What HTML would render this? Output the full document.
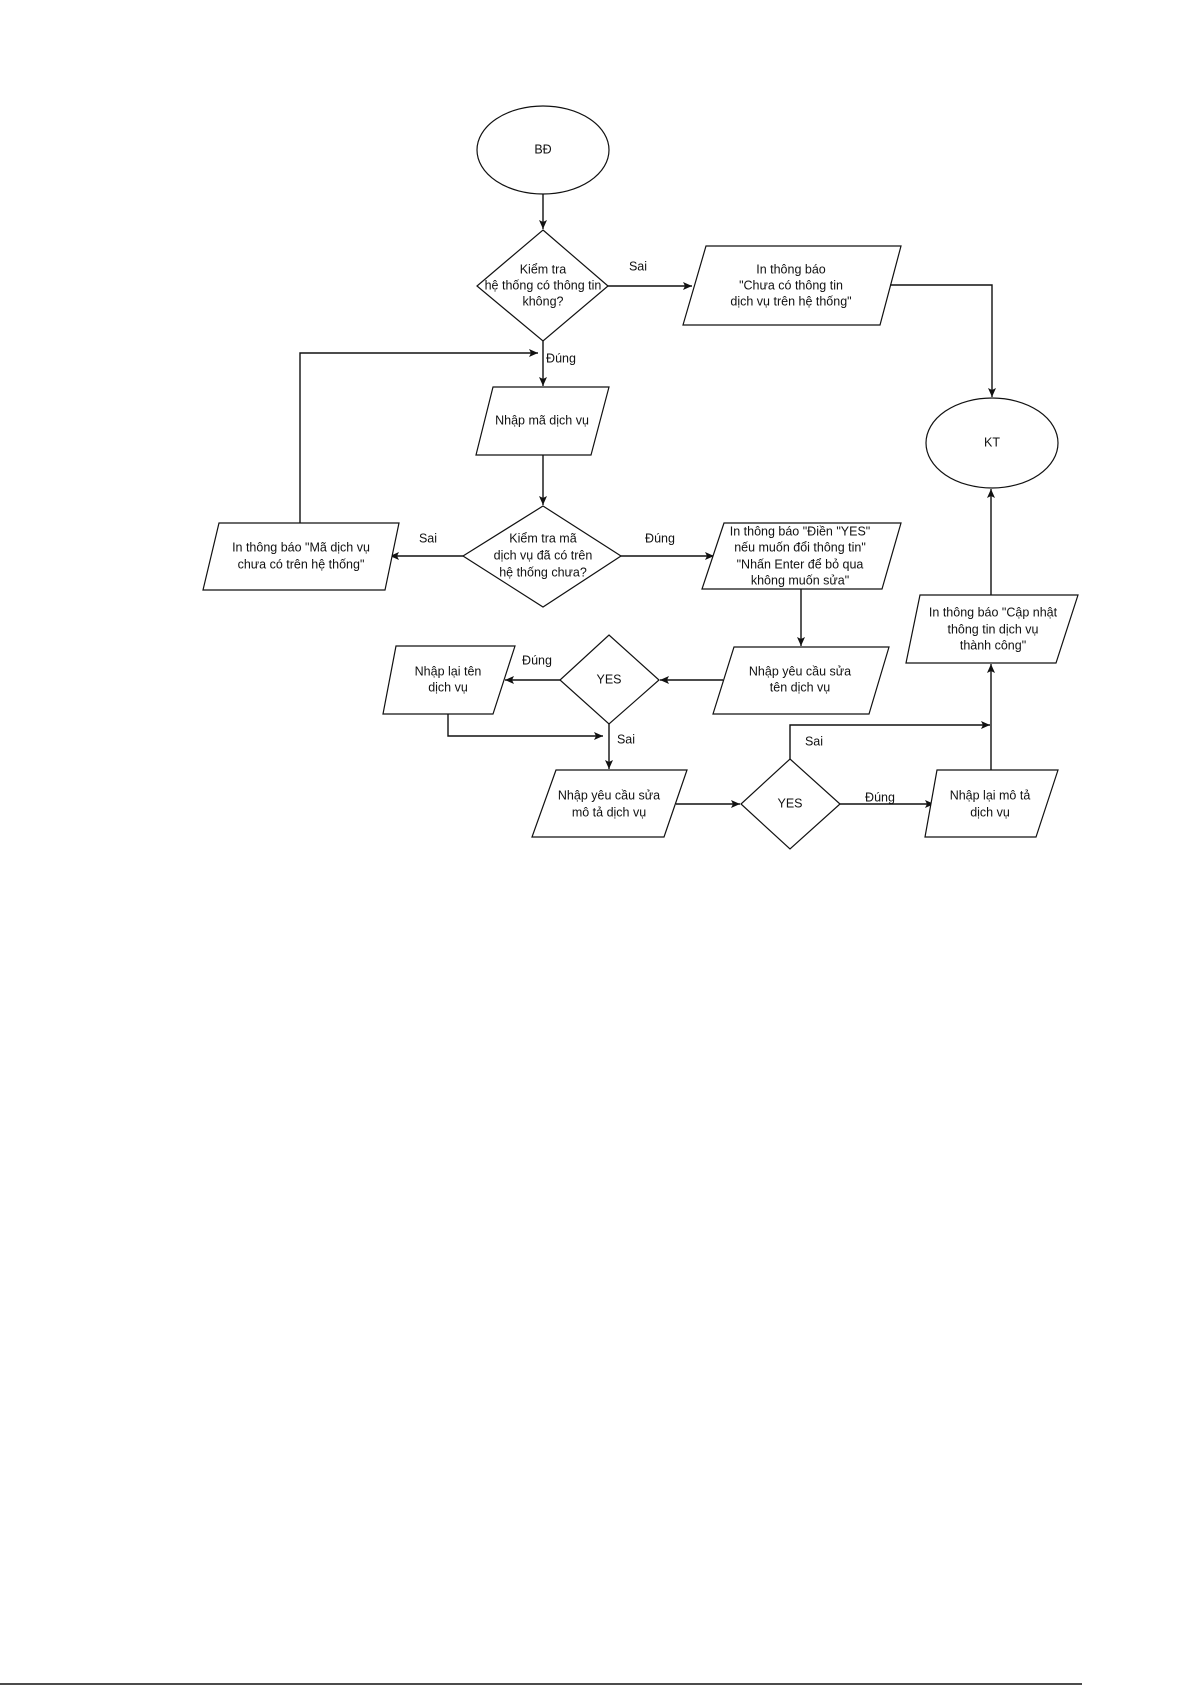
<!DOCTYPE html>
<html><head><meta charset="utf-8"><style>
html,body{margin:0;padding:0;background:#fff;}
svg{display:block;}
text{font-family:"Liberation Sans",Arial,sans-serif;font-size:12.5px;fill:#111;text-anchor:middle;dominant-baseline:middle;}
.s{fill:#fff;stroke:#111;stroke-width:1.2;}
.l{fill:none;stroke:#111;stroke-width:1.4;}
</style></head><body>
<svg width="1192" height="1685" viewBox="0 0 1192 1685" xmlns="http://www.w3.org/2000/svg">
<defs><marker id="a" markerWidth="10" markerHeight="10" refX="9" refY="5" orient="auto" markerUnits="userSpaceOnUse"><path d="M0,1 L9,5 L0,9 L2,5 z" fill="#111"/></marker></defs>

<ellipse class="s" cx="543" cy="150" rx="66" ry="44"/><text x="543" y="150">BĐ</text>
<line class="l" x1="543" y1="194" x2="543" y2="229" marker-end="url(#a)"/>

<polygon class="s" points="543,230 608,286 543,341 477,286"/>
<text x="543" y="270">Kiểm tra</text><text x="543" y="286">hệ thống có thông tin</text><text x="543" y="302">không?</text>
<text x="638" y="267">Sai</text>
<line class="l" x1="608" y1="286" x2="692" y2="286" marker-end="url(#a)"/>
<polygon class="s" points="706,246 901,246 880,325 683,325"/>
<text x="791" y="270">In thông báo</text><text x="791" y="286">"Chưa có thông tin</text><text x="791" y="302">dịch vụ trên hệ thống"</text>
<polyline class="l" points="890,285 992,285 992,397" marker-end="url(#a)"/>
<ellipse class="s" cx="992" cy="443" rx="66" ry="45"/><text x="992" y="443">KT</text>

<line class="l" x1="543" y1="341" x2="543" y2="386" marker-end="url(#a)"/>
<text x="561" y="359">Đúng</text>
<polyline class="l" points="300,523 300,353 538,353" marker-end="url(#a)"/>

<polygon class="s" points="493,387 609,387 591,455 476,455"/>
<text x="542" y="421">Nhập mã dịch vụ</text>
<line class="l" x1="543" y1="455" x2="543" y2="505" marker-end="url(#a)"/>

<polygon class="s" points="543,506 621,556 543,607 463,556"/>
<text x="543" y="539">Kiểm tra mã</text><text x="543" y="556">dịch vụ đã có trên</text><text x="543" y="573">hệ thống chưa?</text>
<text x="428" y="539">Sai</text>
<line class="l" x1="463" y1="556" x2="390" y2="556" marker-end="url(#a)"/>
<polygon class="s" points="219,523 399,523 385,590 203,590"/>
<text x="301" y="548">In thông báo "Mã dịch vụ</text><text x="301" y="565">chưa có trên hệ thống"</text>
<text x="660" y="539">Đúng</text>
<line class="l" x1="621" y1="556" x2="714" y2="556" marker-end="url(#a)"/>
<polygon class="s" points="724,523 901,523 882,589 702,589"/>
<text x="800" y="532">In thông báo "Điền "YES"</text><text x="800" y="548">nếu muốn đổi thông tin"</text><text x="800" y="565">"Nhấn Enter để bỏ qua</text><text x="800" y="581">không muốn sửa"</text>
<line class="l" x1="801" y1="589" x2="801" y2="646" marker-end="url(#a)"/>

<polygon class="s" points="734,647 889,647 869,714 713,714"/>
<text x="800" y="672">Nhập yêu cầu sửa</text><text x="800" y="688">tên dịch vụ</text>
<line class="l" x1="723" y1="680" x2="660" y2="680" marker-end="url(#a)"/>
<polygon class="s" points="609,635 659,680 609,724 560,680"/>
<text x="609" y="680">YES</text>
<text x="537" y="661">Đúng</text>
<line class="l" x1="560" y1="680" x2="505" y2="680" marker-end="url(#a)"/>
<polygon class="s" points="396,646 515,646 493,714 383,714"/>
<text x="448" y="672">Nhập lại tên</text><text x="448" y="688">dịch vụ</text>
<polyline class="l" points="448,714 448,736 603,736" marker-end="url(#a)"/>
<text x="626" y="740">Sai</text>
<line class="l" x1="609" y1="724" x2="609" y2="769" marker-end="url(#a)"/>

<polygon class="s" points="556,770 687,770 664,837 532,837"/>
<text x="609" y="796">Nhập yêu cầu sửa</text><text x="609" y="813">mô tả dịch vụ</text>
<line class="l" x1="676" y1="804" x2="740" y2="804" marker-end="url(#a)"/>
<polygon class="s" points="790,759 840,804 790,849 741,804"/>
<text x="790" y="804">YES</text>
<polyline class="l" points="790,759 790,725 990,725" marker-end="url(#a)"/>
<text x="814" y="742">Sai</text>
<text x="880" y="798">Đúng</text>
<line class="l" x1="840" y1="804" x2="934" y2="804" marker-end="url(#a)"/>
<polygon class="s" points="937,770 1058,770 1036,837 925,837"/>
<text x="990" y="796">Nhập lại mô tả</text><text x="990" y="813">dịch vụ</text>
<line class="l" x1="991" y1="770" x2="991" y2="664" marker-end="url(#a)"/>

<polygon class="s" points="920,595 1078,595 1056,663 906,663"/>
<text x="993" y="613">In thông báo "Cập nhật</text><text x="993" y="630">thông tin dịch vụ</text><text x="993" y="646">thành công"</text>
<line class="l" x1="991" y1="595" x2="991" y2="489" marker-end="url(#a)"/>

<line x1="0" y1="1684" x2="1082" y2="1684" stroke="#111" stroke-width="1.5"/>
</svg>
</body></html>
